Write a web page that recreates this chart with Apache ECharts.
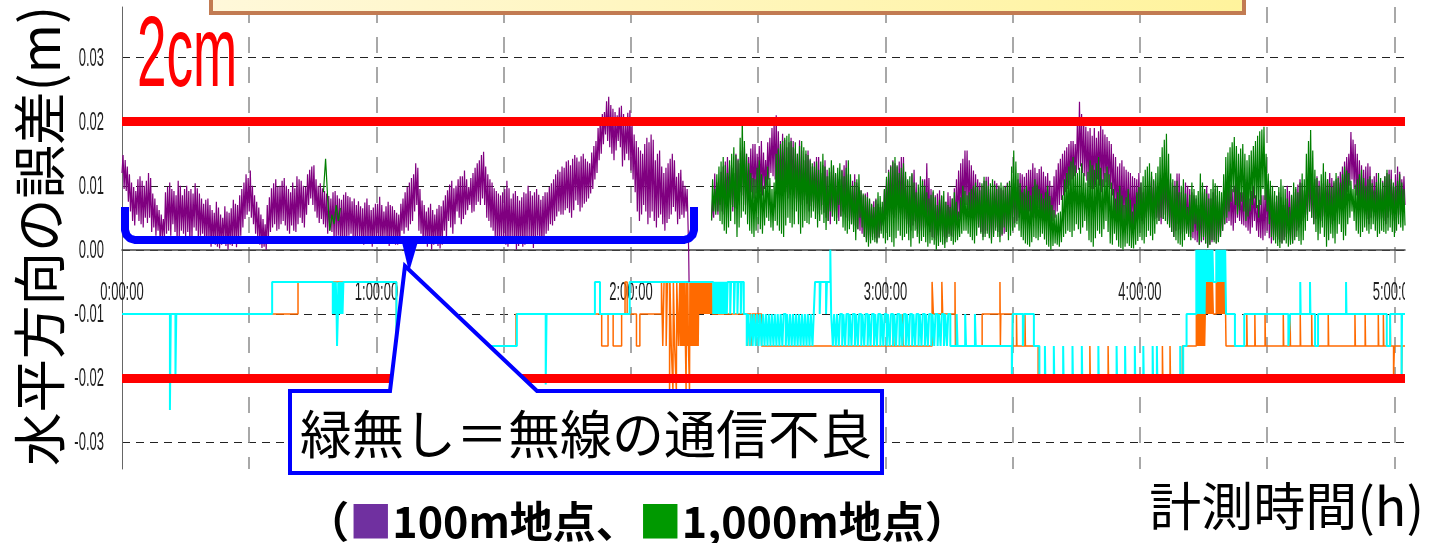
<!DOCTYPE html>
<html>
<head>
<meta charset="utf-8">
<script src="https://cdn.jsdelivr.net/npm/echarts@6/dist/echarts.min.js"></script>
<style>
  html, body { margin: 0; padding: 0; background: #fff; }
  #chart { width: 1429px; height: 543px; }
</style>
</head>
<body>
<div id="chart"></div>
<script>
// Horizontal positioning error of the GNSS units over a 5-hour run.
// Time is in minutes from the start of measurement.
const FINE_STEP_MIN = 0.25;  // logging interval of the continuous traces
const BURST_STEP_MIN = 0.5;
const UNIT_01MM = 1e-4;      // noisy traces are stored in 0.1 mm
const UNIT_MM = 1e-3;        // stepped traces are stored in mm

// 100 m point, first stretch (0:00 - 2:13:15), 0.1 mm
const P100_EARLY_START = 0;
const p100Early = [
  120,148,95,140,92,130,75,118,60,105,45,98,38,92,55,110,45,115,40,108,
  35,100,50,108,42,120,50,112,28,88,35,80,22,70,30,62,12,55,20,48,
  18,90,25,98,30,105,22,95,40,92,28,85,15,108,20,100,30,85,25,95,
  20,100,28,92,12,95,20,88,35,104,30,96,18,88,22,80,25,72,15,78,
  10,80,15,70,5,62,10,58,8,75,5,66,2,55,8,50,12,68,6,60,
  0,58,8,65,6,78,10,72,4,70,15,85,22,95,35,105,48,118,55,112,
  60,124,50,100,40,85,25,75,18,66,8,55,3,48,5,40,0,70,15,82,
  28,96,35,104,40,110,30,98,32,100,40,108,45,112,38,100,30,95,25,90,
  38,105,30,96,28,115,40,110,50,108,42,100,35,98,55,118,70,125,80,130,
  70,132,60,110,50,100,42,104,48,96,40,92,35,88,25,84,30,80,28,90,
  15,92,20,85,22,80,12,78,10,86,15,90,18,84,22,82,25,76,18,80,
  12,70,18,76,20,68,10,65,8,74,15,80,10,70,15,62,5,66,10,72,
  18,72,12,83,10,70,15,60,20,68,12,75,6,70,10,68,15,62,8,58,
  8,55,12,72,30,80,25,90,35,98,30,105,40,112,45,118,60,135,70,128,
  30,95,25,77,12,70,18,60,5,66,10,72,0,62,8,55,15,64,6,70,
  2,68,8,77,30,85,20,93,45,102,35,108,25,96,40,100,60,110,50,115,
  40,115,48,124,55,110,62,98,70,112,58,120,60,128,70,135,75,140,70,148,
  80,153,70,130,50,118,45,110,35,105,30,96,20,92,15,88,10,85,18,90,
  15,95,8,108,5,96,12,80,20,88,10,92,0,84,6,77,12,82,5,90,
  8,88,14,100,18,92,10,85,3,90,12,95,22,86,15,78,10,84,18,90,
  25,90,30,98,40,104,38,110,45,118,52,125,60,122,55,130,55,128,62,138,
  65,140,58,132,50,142,62,148,77,144,70,138,60,146,66,150,72,142,75,138,
  80,135,88,152,95,162,110,170,120,190,140,205,150,212,165,215,180,232,170,239,
  160,226,150,220,140,215,155,210,170,222,160,225,130,212,140,200,150,214,140,218,
  124,200,110,180,90,170,60,160,45,155,55,150,70,165,60,175,40,168,50,180,
  60,172,45,140,35,150,50,155,55,130,40,120,30,128,42,135,48,142,55,150,
  67,140,60,114,40,120,48,125,55,108,50,100,60,95
];
// drop-out at the end of the first stretch
const p100DropT = [133.6, 133.7];
const p100Drop = [0, -50];

// 100 m point, second stretch (2:19 - 5:02:30), 0.1 mm
const P100_LATE_START = 139;
const p100Late = [
  46,80,50,119,60,105,55,100,70,122,60,130,55,138,65,145,80,132,70,128,
  60,120,65,150,75,142,80,135,90,155,85,160,70,150,78,145,85,158,90,165,
  80,165,88,150,95,162,90,170,85,152,95,140,100,168,110,175,120,190,115,200,
  110,210,100,185,90,170,95,181,100,172,90,160,80,168,88,175,95,170,85,158,
  80,150,75,171,70,155,78,140,85,150,72,155,60,142,68,130,75,138,65,145,
  55,145,62,120,70,132,58,140,50,125,45,115,40,122,52,130,60,118,50,110,
  45,110,52,125,60,132,55,140,50,118,45,100,40,108,38,118,35,105,32,98,
  30,93,25,85,20,88,18,90,15,78,20,70,25,76,18,80,12,72,20,67,
  30,67,38,93,45,110,52,125,60,132,55,140,50,135,62,130,70,138,58,145,
  55,145,48,115,40,108,35,100,30,118,38,125,45,105,32,90,25,98,30,110,
  35,110,38,135,40,112,28,95,20,90,18,85,15,88,22,93,30,84,20,75,
  10,75,18,90,25,84,22,80,20,96,30,110,40,124,50,135,60,142,55,155,
  70,155,62,140,55,132,50,124,45,118,40,110,35,105,28,100,20,108,25,114,
  30,114,22,95,15,102,25,108,35,104,28,100,20,96,22,93,25,100,28,105,
  30,105,35,110,40,104,42,98,45,110,50,120,55,118,48,114,40,120,48,125,
  60,125,55,135,50,128,58,120,65,126,52,130,45,122,50,115,55,120,48,108,
  40,100,45,115,50,125,60,135,70,142,78,150,85,155,90,160,95,165,100,170,
  110,170,115,165,120,198,125,231,130,212,120,200,115,192,108,185,100,190,95,178,
  95,190,100,175,110,185,100,197,90,188,98,180,105,176,100,170,95,165,85,150,
  60,145,52,130,45,135,40,140,35,130,42,125,50,122,40,120,30,115,38,112,
  45,110,48,120,50,105,45,90,40,96,50,100,60,108,52,115,45,108,48,100,
  50,95,45,105,40,112,48,120,55,115,45,110,35,105,28,100,20,108,30,119,
  40,119,32,90,25,98,28,105,30,100,25,95,20,90,18,85,15,80,12,70,
  8,70,12,90,15,95,10,100,5,88,8,80,12,90,15,95,10,85,14,75,
  20,75,30,85,40,98,42,110,45,102,38,95,30,100,42,105,50,98,45,90,
  40,90,38,110,35,95,30,80,25,92,35,100,45,85,30,70,20,78,18,85,
  15,85,22,110,30,102,18,95,10,85,15,75,20,84,16,90,12,82,10,70,
  15,70,20,100,25,92,15,85,10,90,20,95,30,102,35,110,40,104,45,93,
  50,93,55,120,60,112,50,105,40,110,48,115,55,108,50,100,45,104,52,110,
  60,110,50,120,40,112,45,105,50,110,58,115,65,122,68,130,70,138,80,145,
  90,150,100,184,110,172,95,165,85,150,70,140,60,132,58,125,55,130,48,135,
  40,130,50,110,60,115,52,120,45,105,48,95,50,108,45,115,40,120,50,125,
  60,125,55,100,45,118,50,130,55,122,60,110,65,115,70
];

// 1,000 m point: a short burst near 0:48, then continuous from 2:19, 0.1 mm
const P1000_BURST_START = 47.5;
const p1000Burst = [90,142,80,30,55,40,70,45,65];
const P1000_MAIN_START = 139;
const p1000Main = [
  46,110,60,95,55,118,60,130,45,138,40,145,30,132,25,120,35,140,45,150,
  67,160,40,148,20,140,35,175,50,207,60,170,55,150,40,135,30,120,25,112,
  20,110,30,128,40,140,32,118,25,100,38,115,50,130,45,112,35,95,30,105,
  45,150,38,158,30,165,25,170,20,175,38,178,50,181,42,170,35,160,40,168,
  60,150,40,162,25,170,35,160,45,155,42,148,40,140,50,135,60,130,48,138,
  35,125,45,138,55,150,42,130,31,115,45,128,60,140,52,132,45,120,40,128,
  70,135,52,124,35,115,30,128,25,140,32,118,40,100,28,106,15,110,32,118,
  50,93,35,88,20,85,12,82,5,80,10,72,15,67,12,78,10,90,18,84,
  25,75,18,95,10,114,15,122,20,130,12,138,5,145,18,132,30,120,22,128,
  15,135,20,122,25,110,15,115,5,120,18,105,30,90,20,102,10,115,14,108,
  20,100,12,90,5,80,10,86,15,93,8,82,0,70,6,78,12,85,8,92,
  3,75,12,70,20,67,14,80,8,90,12,75,15,60,20,82,25,100,30,92,
  30,85,25,90,20,95,15,100,10,105,22,98,35,93,25,104,15,114,20,108,
  25,100,18,104,10,110,20,102,30,95,20,100,12,105,24,100,35,98,28,104,
  15,108,22,130,30,155,35,138,40,120,30,104,20,90,15,95,10,100,8,92,
  5,85,12,98,20,110,18,102,15,95,20,88,25,80,16,90,8,100,5,84,
  0,70,6,62,10,55,8,58,5,60,12,85,20,110,25,120,30,130,28,138,
  20,145,30,132,40,120,32,128,25,135,35,120,45,105,30,122,15,140,12,132,
  5,125,18,135,30,145,25,128,20,110,32,120,45,130,28,118,10,105,8,95,
  25,80,15,90,5,100,3,85,0,70,5,82,10,95,6,78,3,60,2,72,
  8,90,14,98,20,105,15,115,10,125,20,130,30,135,22,122,15,110,25,120,
  40,130,45,145,50,160,48,172,45,181,40,150,35,119,28,110,20,100,15,108,
  10,90,8,100,5,110,15,88,25,67,20,86,15,105,28,95,40,85,30,92,
  8,119,14,105,20,95,10,88,3,80,8,95,15,110,12,104,10,100,12,92,
  20,90,30,118,40,145,50,152,60,160,75,168,90,176,70,162,55,150,62,158,
  75,165,60,150,45,140,52,148,60,155,70,162,80,170,65,178,50,185,70,188,
  95,192,78,150,60,119,40,108,20,100,15,92,10,85,6,98,3,110,10,100,
  15,95,10,80,5,67,8,86,10,105,15,98,20,90,14,105,8,119,15,110,
  30,150,45,170,60,187,50,155,40,125,28,112,15,100,25,118,35,135,20,122,
  5,110,15,104,25,98,18,108,10,120,25,112,40,105,28,118,15,130,22,124,
  40,120,50,108,60,95,45,102,30,110,25,118,20,125,28,112,35,100,30,110,
  25,115,32,104,40,93,30,106,20,120,25,112,30,105,28,115,25,125,30,118,
  35,110,28,105,20,100,30,108,40,118,35,105,30,95,38
];

// Stepped traces: [minute, level in mm], each level held until the next entry
const cyanSteps = [
  [0,-10],[11.3,-25],[11.5,-10],[12.6,-20],[12.8,-10],[35.4,-5],
  [49.7,-10],[49.9,-5],[50.2,-10],[50.4,-5],[50.6,-10],[50.7,-15],[50.9,-10],[51.0,-5],[51.2,-10],[51.4,-5],[51.6,-10],[51.8,-5],[52.0,-10],[52.2,-5],
  [64.7,-15],[93.1,-10],[99.9,-21],[100.1,-10],[111.5,-5],[112.7,-10],[119.7,-5],
  [139.4,-10],[139.6,-5],[139.8,-10],[140.0,-5],[140.2,-10],[140.4,-5],[140.6,-10],[140.8,-5],[141.0,-10],[141.2,-5],[141.4,-10],[141.6,-5],[141.8,-10],[142.0,-5],[142.2,-10],[142.4,-5],[142.6,-10],[142.8,-5],
  [143.4,-10],[143.6,-5],[144.3,-10],[144.5,-5],[145.1,-10],[145.3,-5],[145.9,-10],[146.1,-5],[146.6,-10],
  [147.3,-15],[147.7,-10],[148.0,-15],[148.4,-10],[148.7,-15],[149.0,-10],[149.4,-15],[149.7,-10],[150.1,-15],[150.4,-10],[150.8,-15],[151.1,-10],[151.5,-15],[151.8,-10],[152.2,-15],[152.5,-10],[152.9,-15],[153.2,-10],[153.6,-15],[153.9,-10],[154.3,-15],[154.6,-10],[155.0,-15],[155.3,-10],[155.7,-15],[156.0,-10],[156.5,-15],[156.8,-10],[157.2,-15],[157.5,-10],[157.9,-15],[158.2,-10],[158.6,-15],[158.9,-10],[159.3,-15],[159.6,-10],[160.0,-15],[160.3,-10],[160.7,-15],[161.0,-10],[161.4,-15],[161.7,-10],[162.1,-15],[162.4,-10],[162.8,-15],[163.1,-10],
  [163.4,-5],[164.5,-10],[164.7,-5],[166.0,-10],[166.2,-5],[167.0,0],[167.2,-10],
  [167.6,-15],[167.9,-10],[168.3,-15],[168.6,-10],[169.0,-15],[169.3,-10],[169.8,-15],[170.1,-10],[170.5,-15],[170.8,-10],[171.3,-15],[171.6,-10],[172.0,-15],[172.3,-10],[172.8,-15],[173.1,-10],[173.5,-15],[173.8,-10],[174.3,-15],[174.6,-10],[175.0,-15],[175.3,-10],[175.8,-15],[176.1,-10],[176.5,-15],[176.8,-10],[177.3,-15],[177.6,-10],[178.0,-15],[178.3,-10],[178.8,-15],[179.1,-10],[179.5,-15],[179.8,-10],[180.3,-15],[180.6,-10],[181.0,-15],[181.3,-10],[181.8,-15],[182.1,-10],[182.5,-15],[182.8,-10],[183.3,-15],[183.6,-10],[184.0,-15],[184.3,-10],[184.8,-15],[185.1,-10],[185.5,-15],[185.8,-10],[186.3,-15],[186.6,-10],[187.0,-15],[187.3,-10],[187.8,-15],[188.1,-10],[188.5,-15],[188.8,-10],[189.3,-15],[189.6,-10],[190.0,-15],[190.3,-10],[190.8,-15],[191.1,-10],[191.5,-15],[191.8,-10],[192.3,-15],[192.6,-10],[193.0,-15],[193.3,-10],[193.8,-15],[194.1,-10],[194.5,-15],[194.8,-10],[195.3,-15],
  [196.8,-10],[197.0,-15],[198.8,-10],[199.0,-15],[201.1,-10],[201.3,-15],
  [209.8,-20],[210.0,-10],[212.4,-15],[212.6,-10],[215.0,-15],
  [216.3,-20],[217.6,-15],[217.7,-20],[219.7,-15],[219.8,-20],[221.9,-15],[222.0,-20],[224.1,-15],[224.2,-20],[226.3,-15],[226.4,-20],[230.2,-15],[230.3,-20],[234.5,-15],[234.6,-20],[236.5,-15],[236.6,-20],[238.8,-15],[238.9,-20],[240.8,-15],[240.9,-20],[243.0,-15],[243.1,-20],[244.0,-15],[244.1,-20],[249.5,-15],[249.6,-20],
  [250.2,-15],[251.0,-10],
  [253.3,0],[253.45,-10],[253.6,0],[253.75,-10],[253.9,0],[254.05,-10],[254.2,0],[254.35,-10],[254.5,0],[254.65,-10],[254.8,0],[254.95,-10],[255.1,0],[255.25,-10],[255.4,0],[255.55,-5],
  [255.9,0],[256.05,-5],[256.2,0],[256.35,-5],[256.5,0],[256.65,-5],[256.8,0],[256.95,-5],[257.1,0],[257.3,-5],
  [258.0,0],[258.15,-5],[258.3,0],[258.45,-5],[258.6,0],[258.75,-5],[258.9,0],[259.05,-5],[259.2,0],[259.35,-5],[259.5,0],[259.65,-5],[259.8,0],[259.95,-5],[260.1,0],[260.3,-10],
  [262.4,-15],[264.6,-10],[275.0,-15],[275.4,-10],[277.8,-5],[277.9,-10],[280.1,-5],[280.2,-10],[281.3,-15],[282.0,-10],[288.6,-5],[288.7,-10],[298.2,-15],[299.0,-10],[301.7,-20],[301.8,-10],[302.5,-10]
];

const orangeSteps = [
  [0,-10],[41.5,-5],[64.7,-15],[92.9,-10],
  [113.1,-15],[114.6,-10],[115.8,-15],[117.8,-10],[118.6,-5],[119.1,-10],[121.3,-15],[122.1,-10],
  [127.2,-5],[127.5,-15],[127.8,-5],[128.3,-15],[128.6,-5],[129.1,-22],[129.2,-5],[129.5,-15],[129.9,-22],[130.0,-5],[130.3,-15],[130.7,-22],[130.8,-5],[131.2,-15],
  [131.5,-5],[131.65,-15],[131.8,-5],[131.95,-15],[132.1,-5],[132.25,-15],[132.4,-5],[132.55,-15],[132.7,-5],[132.85,-15],[133.0,-22],[133.1,-5],[133.25,-15],[133.4,-5],[133.55,-15],[133.8,-22],[133.9,-5],[134.05,-15],[134.2,-5],[134.35,-15],[134.5,-5],[134.65,-15],[134.8,-5],[134.95,-15],[135.1,-5],[135.25,-15],[135.4,-5],[135.55,-15],[135.7,-5],[135.85,-15],[136.0,-5],
  [136.2,-10],[136.35,-5],[136.5,-10],[136.65,-5],[136.8,-10],[136.95,-5],[137.1,-10],[137.25,-5],[137.4,-10],[137.55,-5],[137.7,-10],[137.85,-5],[138.0,-10],[138.15,-5],[138.3,-10],[138.45,-5],[138.6,-10],[138.75,-5],[138.9,-10],[139.05,-5],[139.2,-10],
  [147.5,-15],[147.7,-10],[148.3,-15],[148.6,-10],[149.5,-15],[149.7,-10],[150.8,-15],
  [181.8,-10],[182.0,-15],[184.0,-10],[184.2,-15],
  [191.0,-5],[191.3,-10],[193.3,-5],[193.5,-10],[196.4,-5],[196.5,-15],[202.8,-10],[207.0,-5],[207.1,-15],[207.2,-10],
  [210.0,-15],[210.9,-10],[211.0,-15],[212.9,-10],[213.0,-15],
  [216.0,-20],[228.2,-15],[228.3,-20],[232.5,-15],[232.6,-20],[245.3,-15],[245.4,-20],[247.1,-15],[247.2,-20],[250.0,-15],
  [253.3,-10],[253.45,-15],[253.6,-10],[253.75,-15],[253.9,-10],[254.05,-15],[254.2,-10],[254.35,-15],[254.5,-10],[254.65,-15],[254.8,-10],[254.95,-15],[255.1,-10],[255.25,-15],[255.4,-10],
  [255.6,-5],[255.75,-10],[255.9,-5],[256.05,-10],[256.2,-5],[256.35,-10],[256.5,-5],[256.65,-10],[256.8,-5],[256.95,-10],[257.1,-5],[257.3,-10],
  [258.0,-5],[258.15,-10],[258.3,-5],[258.45,-10],[258.6,-5],[258.75,-10],[258.9,-5],[259.05,-10],[259.2,-5],[259.35,-10],[259.5,-5],[259.65,-10],[259.8,-5],[259.95,-10],[260.1,-5],
  [260.3,-15],[265.2,-10],[265.3,-15],[267.1,-10],[267.2,-15],[269.5,-10],[269.6,-15],[273.8,-10],[273.9,-15],[275.4,-10],[275.5,-15],[277.8,-10],[277.9,-15],[280.5,-10],[280.6,-15],[284.4,-10],[284.5,-15],[290.7,-10],[290.8,-15],[293.1,-10],[293.2,-15],[296.2,-10],[296.3,-15],[297.4,-10],[297.5,-15],[299.0,-10],[299.1,-15],[299.8,-20],[300.0,-15],[301.7,-20],[301.8,-15],[302.5,-15]
];

// Tolerance band (2 cm), axis range and tick labels
const TOLERANCE_M = 0.02;
const timeRangeMin = [0, 302.5];
const errorRangeM = [-0.0342, 0.0379];
const xTickMinutes = [0, 60, 120, 180, 240, 300];
const xTickLabels = ['0:00:00', '1:00:00', '2:00:00', '3:00:00', '4:00:00', '5:00:00'];
const yTickValues = [0.03, 0.02, 0.01, 0, -0.01, -0.02, -0.03];
const yTickLabels = ['0.03', '0.02', '0.01', '0.00', '-0.01', '-0.02', '-0.03'];

// ---- build series data ----
const sampled = (start, step, arr) => arr.map((v, i) => [start + i * step, v * UNIT_01MM]);
const GAP = ['-', '-'];

const p100Data = [
  ...sampled(P100_EARLY_START, FINE_STEP_MIN, p100Early),
  ...p100DropT.map((t, i) => [t, p100Drop[i] * UNIT_01MM]),
  GAP,
  ...sampled(P100_LATE_START, FINE_STEP_MIN, p100Late)
];
const p1000Data = [
  ...sampled(P1000_BURST_START, BURST_STEP_MIN, p1000Burst),
  GAP,
  ...sampled(P1000_MAIN_START, FINE_STEP_MIN, p1000Main)
];
const cyanData = cyanSteps.map(([t, mm]) => [t, mm * UNIT_MM]);
const orangeData = orangeSteps.map(([t, mm]) => [t, mm * UNIT_MM]);

const TICK_FONT = "'Liberation Sans', Arial, sans-serif";
const CJK_FONT = "'Noto Sans CJK JP', 'Noto Sans CJK SC', sans-serif";

function tickText(text, x, y, align) {
  return {
    type: 'text', x, y, scaleX: 0.52,
    style: { text, fill: '#1e1e1e', fontFamily: TICK_FONT, fontSize: 25, align, verticalAlign: 'middle' }
  };
}

const chart = echarts.init(document.getElementById('chart'));

chart.setOption({
  animation: false,
  backgroundColor: '#ffffff',
  grid: { left: 122, right: 24, top: 7, bottom: 74 },
  xAxis: {
    type: 'value',
    min: timeRangeMin[0], max: timeRangeMin[1], interval: 30,
    axisLine: { onZero: true, lineStyle: { color: '#444', width: 1.5 } },
    axisTick: { show: false },
    axisLabel: { show: false },
    splitLine: { show: true, showMinLine: false, showMaxLine: false,
      lineStyle: { color: '#8c8c8c', width: 1.5, type: [16, 14] } }
  },
  yAxis: {
    type: 'value',
    min: errorRangeM[0], max: errorRangeM[1], splitNumber: 7,
    axisLine: { show: true, lineStyle: { color: '#666', width: 1 } },
    axisTick: { show: false },
    axisLabel: { show: false },
    splitLine: { show: true, showMinLine: false, showMaxLine: false,
      lineStyle: { color: '#222', width: 1.2, type: [8, 6] } }
  },
  series: [
    {
      name: '100m地点(段階)', type: 'line', step: 'end', data: orangeData,
      showSymbol: false, symbol: 'none', silent: true,
      lineStyle: { color: '#ff6a00', width: 1.5 }
    },
    {
      name: '1,000m地点(段階)', type: 'line', step: 'end', data: cyanData,
      showSymbol: false, symbol: 'none', silent: true,
      lineStyle: { color: '#00ffff', width: 2 }
    },
    {
      name: '100m地点', type: 'line', data: p100Data,
      showSymbol: false, symbol: 'none', silent: true, connectNulls: false,
      lineStyle: { color: '#800080', width: 1.2 }
    },
    {
      name: '1,000m地点', type: 'line', data: p1000Data,
      showSymbol: false, symbol: 'none', silent: true, connectNulls: false,
      lineStyle: { color: '#007f00', width: 1.2 }
    },
    {
      name: '許容範囲', type: 'line', data: [], silent: true,
      markLine: {
        silent: true, symbol: 'none', label: { show: false },
        lineStyle: { color: '#ff0000', width: 9, type: 'solid' },
        data: [{ yAxis: TOLERANCE_M }, { yAxis: -TOLERANCE_M }]
      }
    },
    {
      name: 'y-ticks', type: 'custom', silent: true, clip: false,
      data: yTickValues.map((v, i) => [timeRangeMin[0], v, i]),
      renderItem: (params, api) => {
        const p = api.coord([api.value(0), api.value(1)]);
        return tickText(yTickLabels[api.value(2)], p[0] - 18, p[1] + 1, 'right');
      }
    },
    {
      name: 'x-ticks', type: 'custom', silent: true, clip: false,
      data: xTickMinutes.filter(m => m < 300).map((m) => [m, 0, xTickMinutes.indexOf(m)]),
      renderItem: (params, api) => {
        const p = api.coord([api.value(0), api.value(1)]);
        return tickText(xTickLabels[api.value(2)], p[0], p[1] + 43, 'center');
      }
    },
    {
      name: 'x-ticks-edge', type: 'custom', silent: true, clip: true,
      data: xTickMinutes.filter(m => m >= 300).map((m) => [m, 0, xTickMinutes.indexOf(m)]),
      renderItem: (params, api) => {
        const p = api.coord([api.value(0), api.value(1)]);
        return tickText(xTickLabels[api.value(2)], p[0], p[1] + 43, 'center');
      }
    }
  ],
  graphic: [
    {
      type: 'rect', z: 100, silent: true,
      shape: { x: 211, y: -20, width: 1033, height: 33 },
      style: {
        fill: new echarts.graphic.LinearGradient(0, 0, 1, 0, [
          { offset: 0, color: '#fff8da' }, { offset: 1, color: '#fff39c' }
        ]),
        stroke: '#c27b52', lineWidth: 4
      }
    },
    {
      type: 'text', z: 100, silent: true, x: 137, y: 58, scaleX: 0.53,
      style: { text: '2cm', fill: '#ff0000', fontFamily: TICK_FONT, fontSize: 100, align: 'left', verticalAlign: 'middle' }
    },
    {
      type: 'polyline', z: 100, silent: true,
      shape: { points: [[125, 207], [125, 230], [126.5, 235], [130, 238.5], [135, 240], [684, 240], [689, 238.5], [692.5, 235], [694, 230], [694, 207]] },
      style: { fill: null, stroke: '#0000ff', lineWidth: 8, lineJoin: 'round' }
    },
    {
      type: 'polygon', z: 100, silent: true,
      shape: { points: [[401, 238], [419, 238], [409, 272]] },
      style: { fill: '#0000ff' }
    },
    {
      type: 'polygon', z: 101, silent: true,
      shape: { points: [[290, 391], [390, 391], [405, 266], [537, 391], [882, 391], [882, 473], [290, 473]] },
      style: { fill: '#ffffff', stroke: '#0000ff', lineWidth: 4 }
    },
    {
      type: 'text', z: 102, silent: true, x: 586, y: 434,
      style: { text: '緑無し＝無線の通信不良', fill: '#000', fontFamily: CJK_FONT, fontSize: 52, align: 'center', verticalAlign: 'middle' }
    },
    {
      type: 'text', z: 100, silent: true, x: 40, y: 236, rotation: Math.PI / 2,
      style: { text: '水平方向の誤差(m)', fill: '#000', fontFamily: CJK_FONT, fontSize: 53.5, align: 'center', verticalAlign: 'middle' }
    },
    {
      type: 'text', z: 100, silent: true, x: 1424, y: 506,
      style: { text: '計測時間(h)', fill: '#000', fontFamily: CJK_FONT, fontSize: 52, align: 'right', verticalAlign: 'middle' }
    },
    {
      type: 'text', z: 100, silent: true, x: 637, y: 522,
      style: {
        text: '（{p|■}100m地点、{g|■}1,000m地点）',
        fill: '#000', fontFamily: CJK_FONT, fontSize: 43, fontWeight: 'bold', align: 'center', verticalAlign: 'middle',
        rich: {
          p: { fill: '#7030a0', fontFamily: CJK_FONT, fontSize: 43, fontWeight: 'bold' },
          g: { fill: '#009900', fontFamily: CJK_FONT, fontSize: 43, fontWeight: 'bold' }
        }
      }
    }
  ]
});
</script>
</body>
</html>
